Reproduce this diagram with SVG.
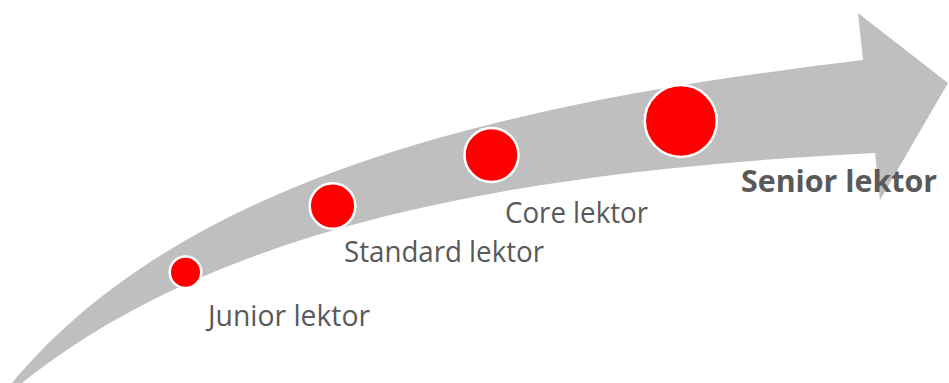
<svg xmlns="http://www.w3.org/2000/svg" width="949" height="383" viewBox="0 0 949 383">
<style>
.lbl{font-family:"Open Sans","Noto Sans","Liberation Sans",sans-serif;fill:#595959;font-size:30px}
.bold{font-weight:bold;font-size:31px}
.dot{fill:#FF0000;stroke:#FFFFFF;stroke-width:2.5}
</style>
<rect width="949" height="383" fill="#FFFFFF"/>
<g id="arrow">
<path d="M 22,383 C 222,223 525,170.5 875,153 L 880,200 L 948,83 L 858,13 L 863,60 C 513,102 187,173 12,383 Z" fill="#BFBFBF"/>
</g>
<g id="junior">
<circle class="dot" cx="185.5" cy="272.3" r="15.8"/>
<text class="lbl" x="208" y="326" textLength="162" lengthAdjust="spacingAndGlyphs">Junior lektor</text>
</g>
<g id="standard">
<circle class="dot" cx="332.5" cy="206" r="22.8"/>
<text class="lbl" x="344" y="262" textLength="200" lengthAdjust="spacingAndGlyphs">Standard lektor</text>
</g>
<g id="core">
<circle class="dot" cx="491.5" cy="155" r="27"/>
<text class="lbl" x="505" y="223" textLength="143" lengthAdjust="spacingAndGlyphs">Core lektor</text>
</g>
<g id="senior">
<circle class="dot" cx="680.8" cy="121" r="36"/>
<text class="lbl bold" x="741" y="191.5" textLength="196" lengthAdjust="spacingAndGlyphs">Senior lektor</text>
</g>
<g id="connectors"></g>
</svg>
